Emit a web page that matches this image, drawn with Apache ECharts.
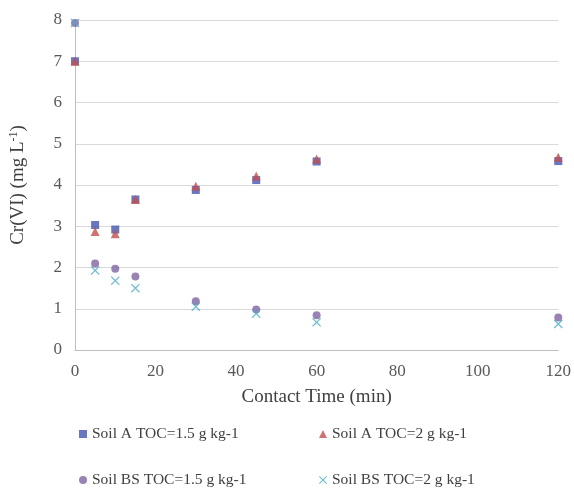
<!DOCTYPE html>
<html>
<head>
<meta charset="utf-8">
<script src="https://cdn.jsdelivr.net/npm/echarts@6/dist/echarts.min.js"></script>
<style>
  html, body { margin: 0; padding: 0; background: #fff; }
  #chart { width: 574px; height: 488px; }
</style>
</head>
<body>
<div id="chart"></div>
<script>
const times = [0, 5, 10, 15, 30, 45, 60, 120]
const soilA15 = [7.0, 3.03, 2.92, 3.65, 3.88, 4.12, 4.57, 4.58]
const soilA2 = [7.0, 2.87, 2.82, 3.65, 3.97, 4.22, 4.63, 4.67]
const soilBS15 = [7.93, 2.1, 1.97, 1.78, 1.18, 0.98, 0.84, 0.79]
const soilBS2 = [7.93, 1.93, 1.68, 1.5, 1.05, 0.88, 0.67, 0.63]
const names = ['Soil A TOC=1.5 g kg-1', 'Soil A TOC=2 g kg-1', 'Soil BS TOC=1.5 g kg-1', 'Soil BS TOC=2 g kg-1']

const FONT = 'Liberation Serif'
const CROSS = 'path://M1,0 L5,4 L9,0 L10,1 L6,5 L10,9 L9,10 L5,6 L1,10 L0,9 L4,5 L0,1 Z'

const pairs = (ys) => times.map((t, i) => [t, ys[i]])

const chart = echarts.init(document.getElementById('chart'))

const legendBase = {
  itemWidth: 8,
  itemHeight: 8,
  itemGap: 4,
  textStyle: { fontFamily: FONT, fontSize: 15.5, color: '#404040' }
}

const option = {
  animation: false,
  backgroundColor: '#fff',
  grid: { left: 73, right: 15, top: 20, bottom: 138 },
  legend: [
    { ...legendBase, data: [names[0]], left: 74, top: 421 },
    { ...legendBase, data: [names[1]], left: 314, top: 421 },
    { ...legendBase, data: [names[2]], left: 74, top: 467 },
    { ...legendBase, data: [names[3]], left: 314, top: 467 }
  ],
  xAxis: {
    type: 'value',
    min: 0,
    max: 120,
    interval: 20,
    name: 'Contact Time (min)',
    nameLocation: 'middle',
    nameGap: 38,
    nameTextStyle: { fontFamily: FONT, fontSize: 19, color: '#404040' },
    axisLine: { lineStyle: { color: '#bfbfbf' } },
    axisTick: { show: false },
    splitLine: { show: false },
    axisLabel: { fontFamily: FONT, fontSize: 17, color: '#595959', margin: 13 }
  },
  yAxis: {
    type: 'value',
    min: 0,
    max: 8,
    interval: 1,
    name: 'Cr(VI) (mg L{sup|-1})',
    nameLocation: 'middle',
    nameGap: 46,
    nameTextStyle: {
      fontFamily: FONT, fontSize: 19, color: '#404040',
      rich: { sup: { fontFamily: FONT, fontSize: 12, color: '#404040', verticalAlign: 'top', padding: [0, 0, 9, 0] } }
    },
    axisLine: { show: true, lineStyle: { color: '#bfbfbf' } },
    axisTick: { show: false },
    splitLine: { lineStyle: { color: '#d9d9d9' } },
    axisLabel: { fontFamily: FONT, fontSize: 17, color: '#595959', margin: 13 }
  },
  series: [
    {
      name: names[0], type: 'scatter', symbol: 'rect', symbolSize: 8,
      itemStyle: { color: '#4454b0' }, data: pairs(soilA15)
    },
    {
      name: names[1], type: 'scatter', symbol: 'triangle', symbolSize: 9,
      itemStyle: { color: '#c0504d' }, data: pairs(soilA2)
    },
    {
      name: names[2], type: 'scatter', symbol: 'circle', symbolSize: 8,
      itemStyle: { color: '#8064a2' }, data: pairs(soilBS15)
    },
    {
      name: names[3], type: 'scatter', symbol: CROSS, symbolSize: 9,
      itemStyle: { color: '#4bacc6' }, data: pairs(soilBS2)
    }
  ]
}

chart.setOption(option)
</script>
</body>
</html>
